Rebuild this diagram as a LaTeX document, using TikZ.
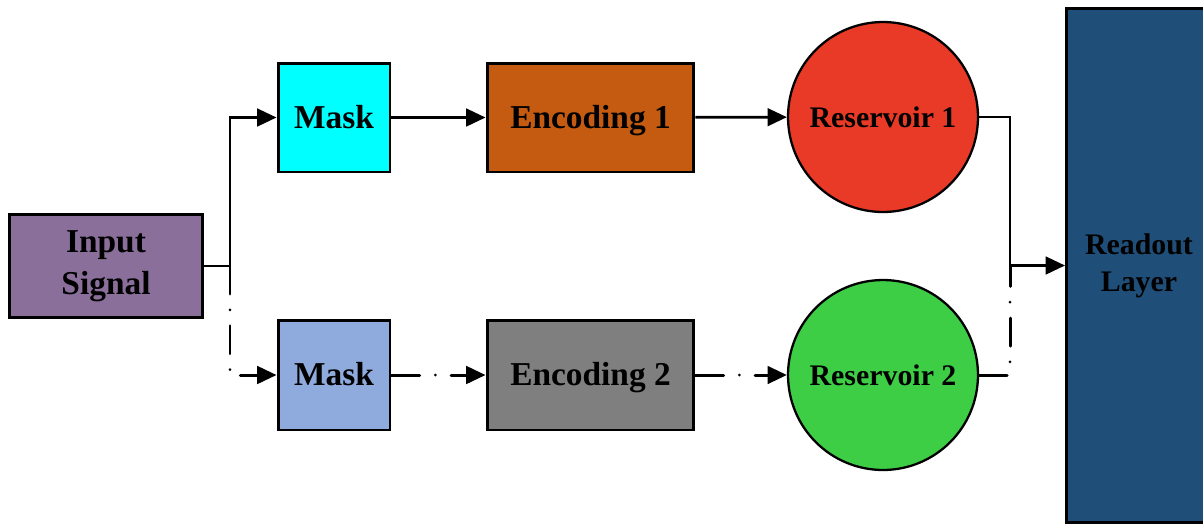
\documentclass[tikz,border=0pt]{standalone}
\usepackage{fontspec}
\setmainfont{Liberation Serif}
\usetikzlibrary{arrows.meta}
\definecolor{inputpurple}{HTML}{8B6F9B}
\definecolor{maskcyan}{HTML}{00FFFF}
\definecolor{encorange}{HTML}{C55A11}
\definecolor{resred}{HTML}{E83A26}
\definecolor{maskblue}{HTML}{8FAADC}
\definecolor{encgray}{HTML}{7F7F7F}
\definecolor{resgreen}{HTML}{3DCE46}
\definecolor{readoutblue}{HTML}{1F4E79}
\begin{document}
\begin{tikzpicture}[x=0.02cm,y=-0.02cm,
  blk/.style={draw=black, line width=1.7pt, align=center, inner sep=0pt,
    font=\bfseries\fontsize{19}{24}\selectfont},
  oneline/.style={text height=16.3pt, text depth=3.8pt},
  res/.style={circle, draw=black, line width=1.3pt, minimum size=3.8cm, inner sep=0pt,
    font=\bfseries\fontsize{17}{20}\selectfont},
  arr/.style={-{Triangle[length=11pt,width=10pt]}},
  solidline/.style={line width=1.6pt},
  dashdotline/.style={line width=1.7pt, line cap=round,
    dash pattern=on 16pt off 9pt on 0pt off 9pt}]
\useasboundingbox (0,0) rectangle (1203,525);

% blocks
\node[blk, fill=inputpurple, minimum width=3.88cm, minimum height=2.06cm] (input) at (106,266) {Input\\Signal};
\node[blk, oneline, fill=maskcyan, minimum width=2.24cm, minimum height=2.18cm] (mask1) at (334,117.5) {Mask};
\node[blk, oneline, fill=encorange, minimum width=4.14cm, minimum height=2.18cm] (enc1) at (590.5,117.5) {Encoding 1};
\node[res, fill=resred] (res1) at (883,117) {Reservoir 1};
\node[blk, oneline, fill=maskblue, minimum width=2.24cm, minimum height=2.2cm] (mask2) at (334,375) {Mask};
\node[blk, oneline, fill=encgray, minimum width=4.14cm, minimum height=2.2cm] (enc2) at (590.5,375) {Encoding 2};
\node[res, fill=resgreen] (res2) at (883,375) {Reservoir 2};
\node[blk, fill=readoutblue, minimum width=2.9cm, minimum height=10.28cm,
  font=\bfseries\fontsize{17}{21}\selectfont] (readout) at (1139,265.5) {Readout\\Layer};

\coordinate (split) at (230,266);
\coordinate (merge) at (1010,265.5);

% upper branch
\draw[solidline, arr] (input.east) -- (split) |- (mask1.west);
\draw[solidline, arr] (mask1) -- (enc1);
\draw[solidline, arr] (enc1) -- (res1);
\draw[solidline, arr] (res1.east) -| (merge) -- (readout.west);

% lower branch
\draw[dashdotline, arr] (split) |- (mask2.west);
\draw[dashdotline, arr] (mask2) -- (enc2);
\draw[dashdotline, arr] (enc2) -- (res2);
\draw[dashdotline] (res2.east) -| (merge);
\end{tikzpicture}
\end{document}
